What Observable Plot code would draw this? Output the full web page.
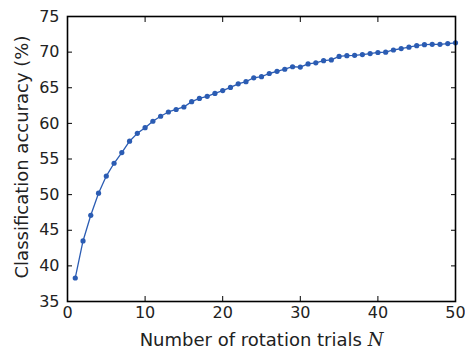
<!DOCTYPE html>
<html>
<head>
<meta charset="utf-8">
<script src="https://cdn.jsdelivr.net/npm/d3@7"></script>
<script src="https://cdn.jsdelivr.net/npm/@observablehq/plot@0.6"></script>
<style>
  html, body { margin: 0; padding: 0; background: #fff; }
  svg { display: block; }
</style>
</head>
<body>
<div id="chart"></div>
<script>
const trials = d3.range(1, 51);
const accuracy = [
  38.3, 43.5, 47.1, 50.2, 52.6, 54.4, 55.9, 57.5, 58.6, 59.4,
  60.3, 61.0, 61.6, 61.95, 62.3, 63.05, 63.5, 63.8, 64.2, 64.6,
  65.05, 65.55, 65.85, 66.4, 66.55, 67.0, 67.3, 67.6, 67.95, 67.9,
  68.35, 68.5, 68.8, 68.9, 69.4, 69.5, 69.55, 69.65, 69.8, 69.95,
  70.0, 70.3, 70.5, 70.7, 70.9, 71.05, 71.1, 71.1, 71.2, 71.3
];
const xTicks = [0, 10, 20, 30, 40, 50];
const yTicks = [35, 40, 45, 50, 55, 60, 65, 70, 75];
const xLabel = "Number of rotation trials N";
const yLabel = "Classification accuracy (%)";

const data = trials.map((n, i) => ({n, acc: accuracy[i]}));
const blue = "#2b5cb3";
const ink = "#222";

const chart = Plot.plot({
  width: 465,
  height: 350,
  marginLeft: 67,
  marginRight: 10,
  marginTop: 16,
  marginBottom: 49,
  style: {fontFamily: "DejaVu Sans", fontSize: "16px", color: ink, background: "#fff"},
  x: {domain: [0, 50]},
  y: {domain: [35, 75]},
  marks: [
    Plot.axisX({anchor: "bottom", ticks: xTicks, tickSize: -5, tickPadding: 10, label: null, stroke: "#000", strokeWidth: 1}),
    Plot.axisX({anchor: "top", ticks: xTicks, tickSize: -5, tickFormat: () => "", label: null, stroke: "#000", strokeWidth: 1}),
    Plot.axisY({anchor: "left", ticks: yTicks, tickSize: -5, tickPadding: 13, label: null, stroke: "#000", strokeWidth: 1}),
    Plot.axisY({anchor: "right", ticks: yTicks, tickSize: -5, tickFormat: () => "", label: null, stroke: "#000", strokeWidth: 1}),
    Plot.line(data, {x: "n", y: "acc", stroke: blue, strokeWidth: 1.3}),
    Plot.dot(data, {x: "n", y: "acc", r: 2.6, fill: blue, stroke: "none"}),
    Plot.frame({stroke: "#000", strokeWidth: 1.6}),
    Plot.text([xLabel], {frameAnchor: "bottom", text: d => d, dy: 44, lineAnchor: "bottom", fontSize: 18, fill: ink}),
    Plot.text([yLabel], {frameAnchor: "left", text: d => d, rotate: -90, dx: -40, dy: -2, textAnchor: "middle", lineAnchor: "bottom", fontSize: 18, fill: ink})
  ]
});

d3.select(chart).selectAll("text").each(function() {
  if (this.textContent === xLabel) {
    const t = d3.select(this);
    t.text(null);
    t.append("tspan").text("Number of rotation trials ");
    t.append("tspan").attr("font-family", "DejaVu Serif").attr("font-style", "italic").text("N");
  }
});

document.getElementById("chart").appendChild(chart);
</script>
</body>
</html>
